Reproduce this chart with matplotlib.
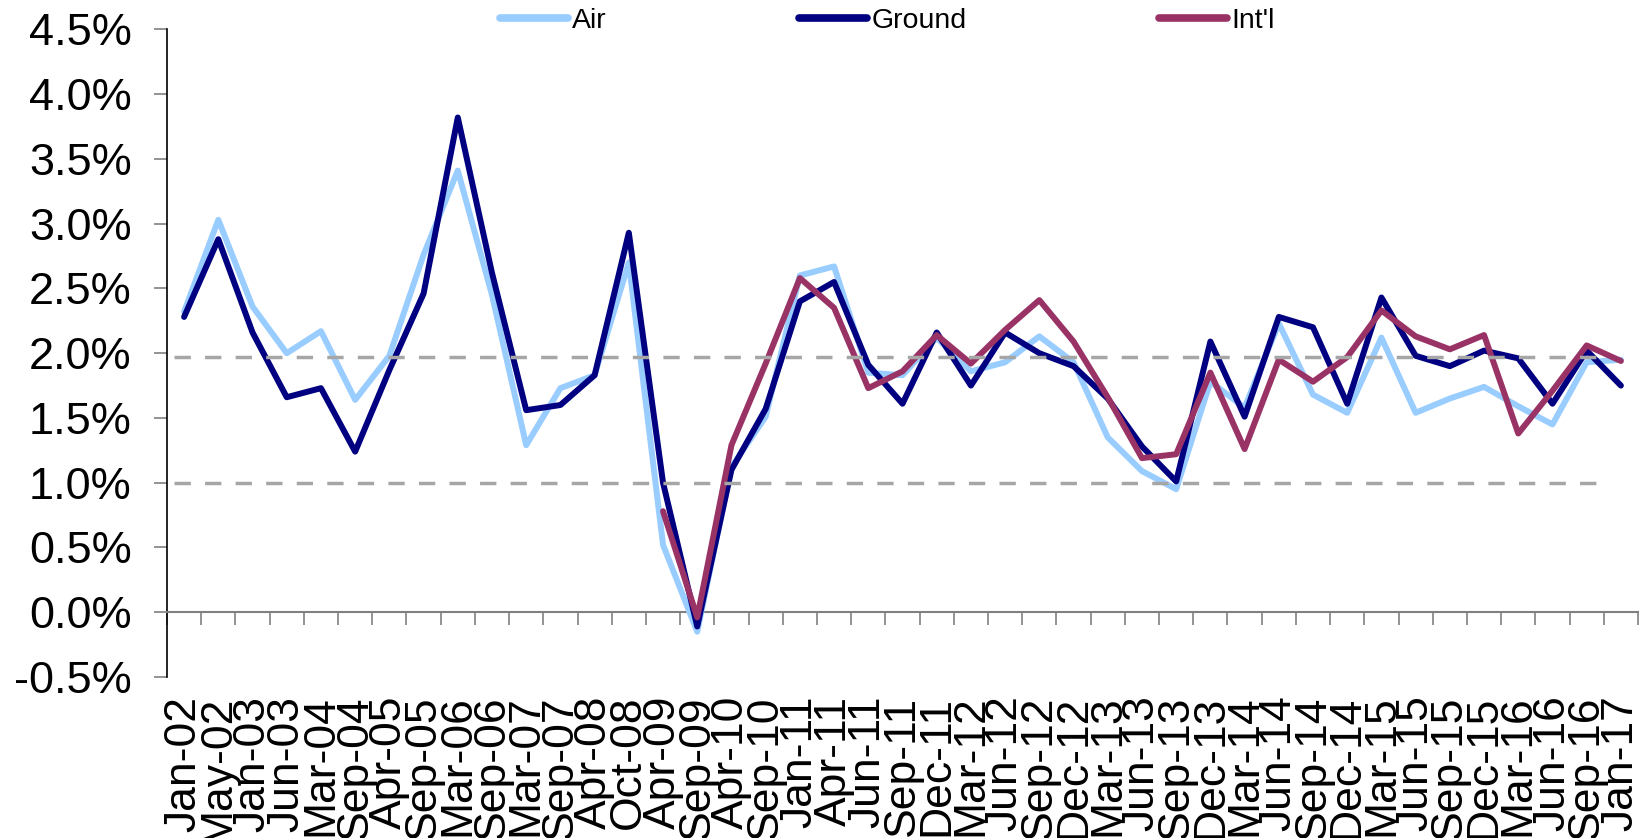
import numpy as np
import matplotlib
matplotlib.use("Agg")
import matplotlib.pyplot as plt
from matplotlib.ticker import FuncFormatter, FixedLocator, NullFormatter, FixedFormatter

plt.rcParams['font.family'] = ['Liberation Sans', 'DejaVu Sans']

categories = ["Jan-02", "May-02", "Jan-03", "Jun-03", "Mar-04", "Sep-04", "Apr-05", "Sep-05",
              "Mar-06", "Sep-06", "Mar-07", "Sep-07", "Apr-08", "Oct-08", "Apr-09", "Sep-09",
              "Apr-10", "Sep-10", "Jan-11", "Apr-11", "Jun-11", "Sep-11", "Dec-11", "Mar-12",
              "Jun-12", "Sep-12", "Dec-12", "Mar-13", "Jun-13", "Sep-13", "Dec-13", "Mar-14",
              "Jun-14", "Sep-14", "Dec-14", "Mar-15", "Jun-15", "Sep-15", "Dec-15", "Mar-16",
              "Jun-16", "Sep-16", "Jan-17"]

air = [2.32, 3.03, 2.36, 2.00, 2.17, 1.64, 1.98, 2.76, 3.41, 2.45, 1.29, 1.73, 1.83, 2.70,
       0.52, -0.15, 1.12, 1.51, 2.60, 2.67, 1.85, 1.83, 2.12, 1.86, 1.93, 2.13, 1.93, 1.35,
       1.09, 0.95, 1.78, 1.58, 2.23, 1.68, 1.54, 2.12, 1.54, 1.65, 1.74, 1.59, 1.45, 1.93, 1.95]

ground = [2.28, 2.88, 2.16, 1.66, 1.73, 1.24, 1.87, 2.46, 3.82, 2.62, 1.56, 1.60, 1.83, 2.93,
          1.00, -0.11, 1.10, 1.57, 2.40, 2.55, 1.91, 1.61, 2.16, 1.75, 2.16, 2.00, 1.90, 1.65,
          1.28, 1.01, 2.09, 1.51, 2.28, 2.20, 1.61, 2.43, 1.98, 1.90, 2.02, 1.96, 1.61, 2.02, 1.75]

intl = [np.nan] * 14 + [0.78, -0.04, 1.29, 1.92, 2.58, 2.35, 1.73, 1.86, 2.14, 1.92, 2.18,
                        2.41, 2.09, 1.66, 1.19, 1.22, 1.85, 1.26, 1.95, 1.78, 1.97, 2.33,
                        2.13, 2.03, 2.14, 1.38, 1.71, 2.06, 1.94]

ref_high = 1.97
ref_low = 1.00

fig = plt.figure(figsize=(16.46, 8.38), dpi=100)
ax = fig.add_axes([167 / 1646, 1 - 677 / 838, (1638 - 167) / 1646, (677 - 29.4) / 838])

x = np.arange(len(categories))
lw = 4.3
kw = dict(lw=lw, solid_joinstyle='round', solid_capstyle='round')
ax.plot(x, air, color='#99CCFF', label='Air', zorder=3, **kw)
ax.plot(x, ground, color='#000080', label='Ground', zorder=4, **kw)
ax.plot(x, intl, color='#993366', label="Int'l", zorder=5, **kw)

for v in (ref_high, ref_low):
    ax.plot([-0.3, 41.6], [v, v], color='#A6A6A6', lw=2.5, dashes=(4.7, 4.1), zorder=6)

ax.set_xlim(-0.5, len(categories) - 0.5)
ax.set_ylim(-0.5, 4.5)
ax.set_yticks(np.arange(-0.5, 4.51, 0.5))
ax.yaxis.set_major_formatter(FuncFormatter(lambda v, p: f"{v:.1f}%"))

# x ticks: marks at boundaries, labels at centers
ax.xaxis.set_major_locator(FixedLocator(np.arange(-0.5, len(categories), 1.0)))
ax.xaxis.set_major_formatter(NullFormatter())
ax.xaxis.set_minor_locator(FixedLocator(x))
ax.xaxis.set_minor_formatter(FixedFormatter(categories))
ax.tick_params(axis='x', which='major', direction='out', length=9.4, width=1.2, color='#808080')
ax.tick_params(axis='x', which='minor', length=0, pad=60, labelsize=32, labelrotation=90)

ax.tick_params(axis='y', direction='out', length=9.4, width=1.2, color='#808080', labelsize=32.5, pad=16)

for s in ('top', 'right'):
    ax.spines[s].set_visible(False)
ax.spines['bottom'].set_position(('data', 0))
ax.spines['bottom'].set_color('#808080')
ax.spines['bottom'].set_linewidth(1.5)
ax.spines['left'].set_color('black')
ax.spines['left'].set_linewidth(1.2)

leg = fig.legend(loc='center', bbox_to_anchor=(0.539, 0.975), ncol=3, frameon=False, fontsize=20.5,
                 handlelength=2.4, handletextpad=0.15, columnspacing=6.75, borderaxespad=0)
for h in leg.get_lines():
    h.set_linewidth(5.5)

fig.savefig('out.png', dpi=100)
